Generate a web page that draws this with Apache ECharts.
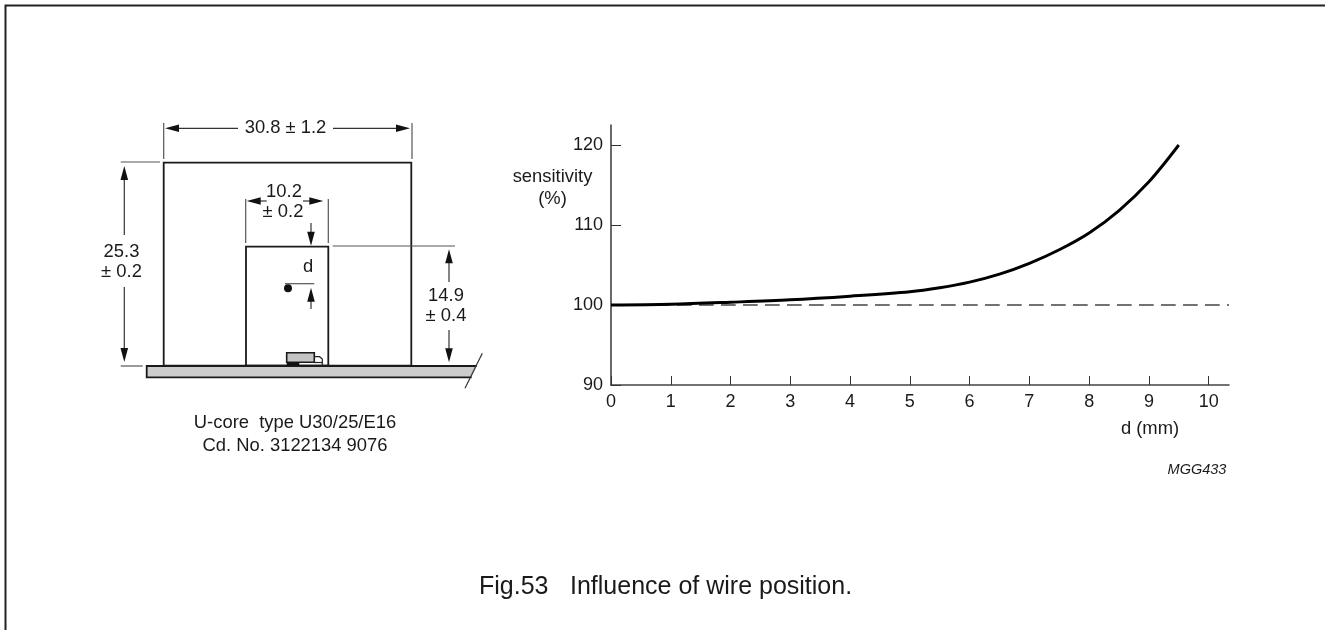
<!DOCTYPE html>
<html><head><meta charset="utf-8">
<style>html,body{margin:0;padding:0;background:#fff}#c{width:1325px;height:630px}</style>
<script src="https://cdn.jsdelivr.net/npm/echarts@6/dist/echarts.min.js"></script>
</head><body><div id="c"></div>
<script>
const distance = [0,1,2,3,4,5,5.5,6,6.5,7,7.5,8,8.5,9,9.5];
const sensitivity = [100,100.1,100.35,100.65,101.1,101.65,102.15,102.85,103.85,105.2,106.9,109,111.8,115.4,120];
const reference = [100,100];
const referenceX = [0,10.34];
const xTicks = [0,1,2,3,4,5,6,7,8,9,10];
const yTicks = [90,100,110,120];
const FONT = '"Liberation Sans", Arial, sans-serif';
const INK = '#1a1a1a', AXIS = '#444';

function line(x1,y1,x2,y2,w,c){return {type:'line',silent:true,shape:{x1,y1,x2,y2},style:{stroke:c||'#333',lineWidth:w||1.2}};}
function rect(x,y,width,height,fill,w){return {type:'rect',silent:true,shape:{x,y,width,height},style:{fill:fill||'none',stroke:'#1a1a1a',lineWidth:w||1.8}};}
function txt(s,x,y,size,align,style){return {type:'text',silent:true,x,y,style:{text:s,fill:INK,font:(style?style+' ':'')+(size||18)+'px '+FONT,align:align||'center',verticalAlign:'middle'}};}
function arrow(x,y,dir){const L=14,H=3.8;const p={l:[[x,y],[x+L,y-H],[x+L,y+H]],r:[[x,y],[x-L,y-H],[x-L,y+H]],u:[[x,y],[x-H,y+L],[x+H,y+L]],d:[[x,y],[x-H,y-L],[x+H,y-L]]}[dir];
 return {type:'polygon',silent:true,shape:{points:p},style:{fill:'#111'}};}

const diagram = [
 {type:'polyline',silent:true,shape:{points:[[5.5,640],[5.5,5.5],[1330,5.5]]},style:{fill:'none',stroke:'#222',lineWidth:2}},
 // dimension 30.8
 line(163.7,123,163.7,159,1.2,'#555'),line(412,123,412,159,1.2,'#555'),
 line(170,128.3,238,128.3),line(333,128.3,405,128.3),
 arrow(165,128.3,'l'),arrow(410,128.3,'r'),
 txt('30.8 ± 1.2',285.5,128,18.4),
 // core
 rect(163.7,162.7,247.6,203),
 rect(246,246.7,82.3,119),
 {type:'polygon',silent:true,shape:{points:[[146.7,366],[476.7,366],[471.7,377.3],[146.7,377.3]]},style:{fill:'#ccc',stroke:'none'}},
 {type:'polyline',silent:true,shape:{points:[[476.7,366],[146.7,366],[146.7,377.3],[471.7,377.3]]},style:{fill:'none',stroke:'#1a1a1a',lineWidth:1.8}},
 line(482.3,353.3,465,388.3),
 // 25.3
 line(120.7,162,160,162,1.2,'#555'),line(120.7,366,142.7,366,1.2,'#555'),
 line(124.3,170,124.3,235),line(124.3,287,124.3,358),
 arrow(124.3,166,'u'),arrow(124.3,362,'d'),
 txt('25.3',121.5,252,18.4),txt('± 0.2',121.5,272,18.4),
 // 10.2
 line(245.7,199,245.7,243,1.2,'#555'),line(328.3,199,328.3,243,1.2,'#555'),
 line(250,201,266.7,201),line(303,201,320,201),
 arrow(246.7,201,'l'),arrow(323.3,201,'r'),
 txt('10.2',284,192,18.4),txt('± 0.2',283,212,18.4),
 // d
 line(311,223,311,242),arrow(311,245.7,'d'),
 txt('d',308,267,18.4),
 line(285,283.7,314.3,283.7,1.2,'#555'),
 {type:'circle',silent:true,shape:{cx:288,cy:288.3,r:4},style:{fill:'#111'}},
 line(311,291,311,309),arrow(311,287.7,'u'),
 // 14.9
 line(332.7,246,455,246,1.2,'#555'),
 line(449,253,449,282),line(449,330,449,358),
 arrow(449,249.3,'u'),arrow(449,362.3,'d'),
 txt('14.9',446,296,18.4),txt('± 0.4',446,316,18.4),
 // sensor
 rect(286.7,352.7,27.6,9.6,'#c4c4c4',1.6),
 {type:'rect',silent:true,shape:{x:286.7,y:362,width:12.6,height:4},style:{fill:'#111'}},
 {type:'polyline',silent:true,shape:{points:[[314,356.7],[319.5,356.7],[322.3,359],[322.3,366]]},style:{fill:'none',stroke:'#222',lineWidth:1.2}},
 line(314,362.5,322.3,362.5,1.2,'#222'),
 // captions
 txt('U-core  type U30/25/E16',295,423,18.4),
 txt('Cd. No. 3122134 9076',295,446,18.4),
 txt('sensitivity',552.5,177,18.4),txt('(%)',552.5,199,18.4),
 txt('d (mm)',1150,429,18.4),
 txt('MGG433',1197,470,14.5,'center','italic'),
 txt('Fig.53',479,587.5,25,'left'),
 txt('Influence of wire position.',570,587.5,25,'left')
];

const chart = echarts.init(document.getElementById('c'),null,{renderer:'canvas'});
chart.setOption({
 animation:false,
 backgroundColor:'#fff',
 grid:{left:611,top:125,width:618,height:260,containLabel:false},
 xAxis:{type:'value',min:0,max:10.34,interval:1,
  axisLine:{onZero:false,lineStyle:{color:AXIS,width:1.6}},
  axisTick:{inside:true,length:9,lineStyle:{color:'#333',width:1}},
  axisLabel:{color:INK,fontFamily:FONT,fontSize:18,margin:8,showMaxLabel:false,
    formatter:v=>xTicks.includes(v)?String(v):''},
  splitLine:{show:false}},
 yAxis:{type:'value',min:90,max:122.5,interval:10,
  axisLine:{onZero:false,show:true,lineStyle:{color:AXIS,width:1.6}},
  axisTick:{show:true,inside:true,length:10,lineStyle:{color:'#333',width:1}},
  axisLabel:{color:INK,fontFamily:FONT,fontSize:18,margin:8,showMaxLabel:false,
    formatter:v=>yTicks.includes(v)?String(v):''},
  splitLine:{show:false}},
 series:[
  {type:'line',data:referenceX.map((x,i)=>[x,reference[i]]),symbol:'none',silent:true,
   lineStyle:{color:'#444',width:1.3,type:[14.7,7.3]},z:2},
  {type:'line',data:distance.map((x,i)=>[x,sensitivity[i]]),symbol:'none',smooth:0.33,silent:true,
   lineStyle:{color:'#000',width:2.9,cap:'butt'},z:3}
 ],
 graphic:{elements:diagram}
});
</script></body></html>
